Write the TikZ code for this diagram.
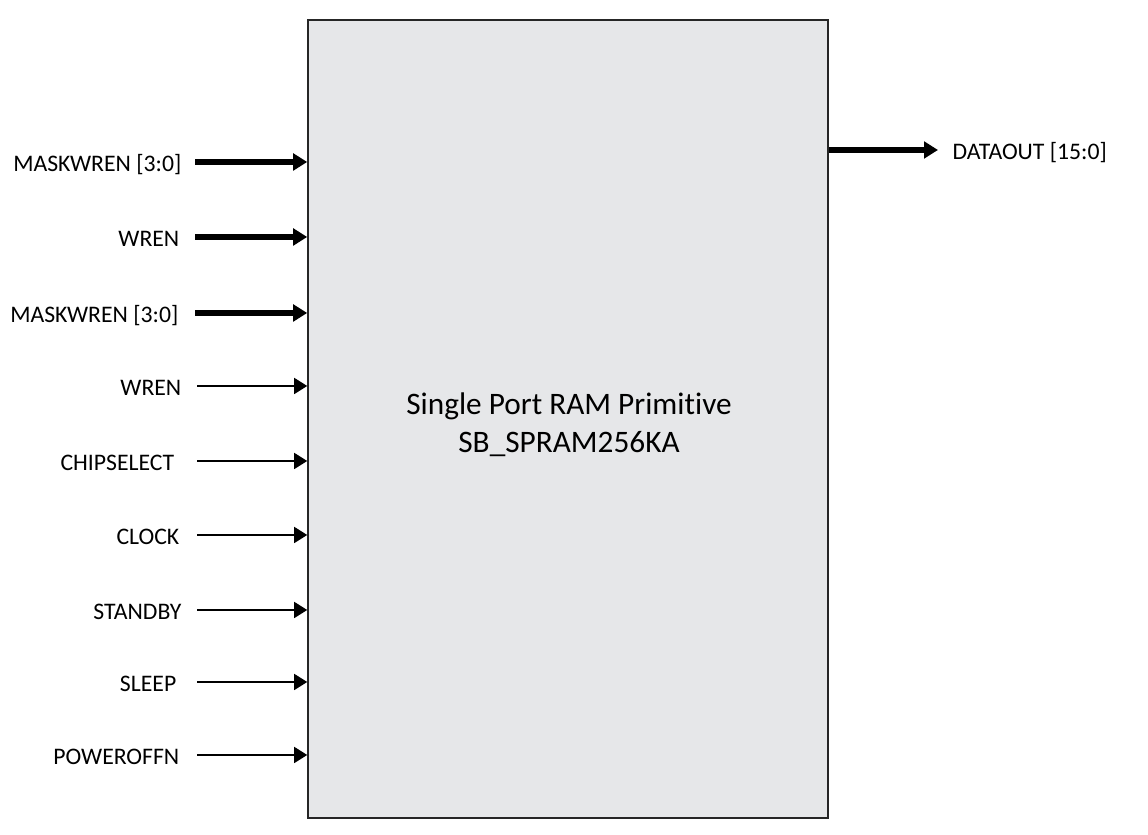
\documentclass[tikz,border=0pt]{standalone}
\usepackage{fontspec}
\setmainfont[Ligatures=NoCommon, RawFeature=-liga, RawFeature=-clig, RawFeature=-calt]{Carlito}
\usepackage{tikz}
\usetikzlibrary{arrows.meta, positioning}
\definecolor{ramgray}{HTML}{E6E7E9}

\tikzset{
  sig/.style={anchor=base east, inner sep=0pt, yshift=-0.95mm, font=\fontsize{6.75}{8}\selectfont},
  bus/.style={line width=1.7pt, -{Triangle[length=1.4mm,width=1.65mm]}},
  wire/.style={line width=0.45pt, -{Triangle[length=1.3mm,width=1.6mm]}},
}

\begin{document}
\begin{tikzpicture}
    \useasboundingbox (0,0) rectangle (11.48,8.35);
    %the primitive block
    \node[draw=black!85, line width=0.45pt, fill=ramgray, minimum width=5.2cm, minimum height=7.98cm,
      inner sep=0pt] (ram) at (5.68,4.16) {};
    \node[align=center, font=\fontsize{8.9}{10.8}\selectfont] (ramname) at (5.69,4.10)
      {Single Port RAM Primitive\\SB\_SPRAM256KA};
    %inputs
    \coordinate (a1) at (1.95,6.73);
    \coordinate (a2) at (1.95,5.98);
    \coordinate (a3) at (1.95,5.22);
    \coordinate (a4) at (1.97,4.49);
    \coordinate (a5) at (1.97,3.74);
    \coordinate (a6) at (1.97,3.00);
    \coordinate (a7) at (1.97,2.25);
    \coordinate (a8) at (1.97,1.53);
    \coordinate (a9) at (1.97,0.80);
    \node[sig] (maskwren1) at (1.82,6.73) {MASKWREN [3:0]};
    \node[sig] (wren1) at (1.80,5.98) {WREN};
    \node[sig] (maskwren2) at (1.79,5.22) {MASKWREN [3:0]};
    \node[sig] (wren2) at (1.82,4.49) {WREN};
    \node[sig] (chipselect) at (1.75,3.74) {CHIPSELECT};
    \node[sig] (clock) at (1.80,3.00) {CLOCK};
    \node[sig] (standby) at (1.82,2.25) {STANDBY};
    \node[sig] (sleep) at (1.77,1.53) {SLEEP};
    \node[sig] (poweroffn) at (1.80,0.80) {POWEROFFN};
    \draw[bus](a1)--(a1-|ram.west);
    \draw[bus](a2)--(a2-|ram.west);
    \draw[bus](a3)--(a3-|ram.west);
    \draw[wire](a4)--(a4-|ram.west);
    \draw[wire](a5)--(a5-|ram.west);
    \draw[wire](a6)--(a6-|ram.west);
    \draw[wire](a7)--(a7-|ram.west);
    \draw[wire](a8)--(a8-|ram.west);
    \draw[wire](a9)--(a9-|ram.west);
    %output
    \coordinate (q) at (9.38,6.85);
    \node[sig, anchor=base west] (dataout) at (9.52,6.85) {DATAOUT [15:0]};
    \draw[bus](q-|ram.east)--(q);
\end{tikzpicture}
\end{document}
